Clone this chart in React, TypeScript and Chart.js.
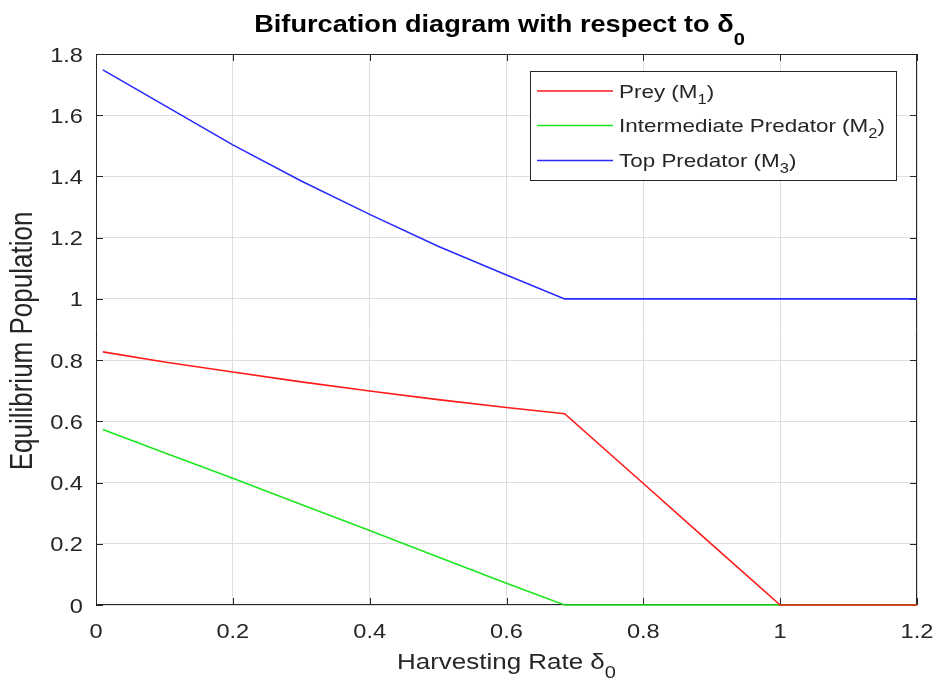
import { useEffect, useRef } from "react";
import { Chart, registerables } from "chart.js";

Chart.register(...registerables);

// ---- data ----
const harvestRates = [0.01, 0.1, 0.2, 0.3, 0.4, 0.5, 0.6, 0.685, 0.8, 0.9, 1.0, 1.1, 1.2];
const preyM1 = [0.827, 0.794, 0.761, 0.729, 0.699, 0.671, 0.645, 0.625, 0.397, 0.198, 0, 0, 0];
const intermediateM2 = [0.573, 0.497, 0.414, 0.328, 0.243, 0.157, 0.071, 0, 0, 0, 0, 0, 0];
const topM3 = [1.748, 1.632, 1.503, 1.385, 1.276, 1.172, 1.078, 1.0, 1.0, 1.0, 1.0, 1.0, 1.0];

const xTickValues = [0, 0.2, 0.4, 0.6, 0.8, 1.0, 1.2];
const xTickLabels = ["0", "0.2", "0.4", "0.6", "0.8", "1", "1.2"];
const yTickValues = [0, 0.2, 0.4, 0.6, 0.8, 1.0, 1.2, 1.4, 1.6, 1.8];
const yTickLabels = ["0", "0.2", "0.4", "0.6", "0.8", "1", "1.2", "1.4", "1.6", "1.8"];

const seriesNames = [
  { main: "Prey (M", sub: "1", tail: ")" },
  { main: "Intermediate Predator (M", sub: "2", tail: ")" },
  { main: "Top Predator (M", sub: "3", tail: ")" },
];
const seriesColors = ["#ff1a1a", "#1ee61e", "#2a2aff"];

const FONT = "'Liberation Sans', Arial, Helvetica, sans-serif";
const SX = 1.18;
const TEXT = "#262626";

type Run = { text: string; font: string; dy: number };

function runsWidth(ctx: CanvasRenderingContext2D, runs: Run[]) {
  let w = 0;
  for (const r of runs) {
    ctx.font = r.font;
    w += ctx.measureText(r.text).width;
  }
  return w;
}

function drawRuns(
  ctx: CanvasRenderingContext2D,
  runs: Run[],
  x: number,
  y: number,
  align: "left" | "center" | "right",
  color: string
) {
  const w = runsWidth(ctx, runs) * SX;
  let start = x;
  if (align === "center") start = x - w / 2;
  if (align === "right") start = x - w;
  ctx.save();
  ctx.translate(start, y);
  ctx.scale(SX, 1);
  ctx.fillStyle = color;
  ctx.textAlign = "left";
  ctx.textBaseline = "alphabetic";
  let cx = 0;
  for (const r of runs) {
    ctx.font = r.font;
    ctx.fillText(r.text, cx, r.dy);
    cx += ctx.measureText(r.text).width;
  }
  ctx.restore();
}

const decorPlugin = {
  id: "matlabDecor",
  beforeDatasetsDraw(chart: any) {
    const ctx: CanvasRenderingContext2D = chart.ctx;
    const { left, right, top, bottom } = chart.chartArea;
    const xs = chart.scales.x;
    const ys = chart.scales.y;
    ctx.save();
    ctx.strokeStyle = TEXT;
    ctx.lineWidth = 1;
    ctx.beginPath();
    ctx.rect(left + 0.5, top + 0.5, right - left - 1, bottom - top - 1);
    ctx.stroke();
    const tl = 7;
    ctx.beginPath();
    for (const v of xTickValues) {
      const px = Math.round(xs.getPixelForValue(v)) + 0.5;
      ctx.moveTo(px, bottom);
      ctx.lineTo(px, bottom - tl);
      ctx.moveTo(px, top);
      ctx.lineTo(px, top + tl);
    }
    for (const v of yTickValues) {
      const py = Math.round(ys.getPixelForValue(v)) + 0.5;
      ctx.moveTo(left, py);
      ctx.lineTo(left + tl, py);
      ctx.moveTo(right, py);
      ctx.lineTo(right - tl, py);
    }
    ctx.stroke();
    ctx.restore();
  },
  afterDraw(chart: any) {
    const ctx: CanvasRenderingContext2D = chart.ctx;
    const { left, right } = chart.chartArea;
    const xs = chart.scales.x;
    const ys = chart.scales.y;
    const tickFont = `20px ${FONT}`;

    // tick labels
    xTickValues.forEach((v, i) => {
      drawRuns(ctx, [{ text: xTickLabels[i], font: tickFont, dy: 0 }], xs.getPixelForValue(v), 638, "center", TEXT);
    });
    yTickValues.forEach((v, i) => {
      drawRuns(ctx, [{ text: yTickLabels[i], font: tickFont, dy: 0 }], 83, ys.getPixelForValue(v) + 7.5, "right", TEXT);
    });

    // title
    drawRuns(
      ctx,
      [
        { text: "Bifurcation diagram with respect to δ", font: `bold 23px ${FONT}`, dy: 0 },
        { text: "0", font: `bold 17px ${FONT}`, dy: 13 },
      ],
      (left + right) / 2 - 7,
      32,
      "center",
      "#000"
    );

    // x axis title
    drawRuns(
      ctx,
      [
        { text: "Harvesting Rate δ", font: `22px ${FONT}`, dy: 0 },
        { text: "0", font: `17px ${FONT}`, dy: 9 },
      ],
      (left + right) / 2,
      669,
      "center",
      TEXT
    );

    // y axis title (rotated)
    ctx.save();
    ctx.translate(32, 341);
    ctx.scale(SX, 1);
    ctx.rotate(-Math.PI / 2);
    ctx.font = `26px ${FONT}`;
    ctx.fillStyle = TEXT;
    ctx.textAlign = "center";
    ctx.textBaseline = "alphabetic";
    ctx.fillText("Equilibrium Population", 0, 0);
    ctx.restore();

    // legend
    const bx = 530.5, by = 71.5, bw = 366, bh = 109;
    ctx.save();
    ctx.fillStyle = "#ffffff";
    ctx.fillRect(bx, by, bw, bh);
    ctx.strokeStyle = TEXT;
    ctx.lineWidth = 1;
    ctx.strokeRect(bx, by, bw, bh);
    ctx.restore();
    const rows = [91, 125.5, 160.5];
    seriesNames.forEach((s, i) => {
      ctx.save();
      ctx.strokeStyle = seriesColors[i];
      ctx.lineWidth = 1.5;
      ctx.beginPath();
      ctx.moveTo(537, rows[i]);
      ctx.lineTo(613, rows[i]);
      ctx.stroke();
      ctx.restore();
      drawRuns(
        ctx,
        [
          { text: s.main, font: `19px ${FONT}`, dy: 0 },
          { text: s.sub, font: `14px ${FONT}`, dy: 6 },
          { text: s.tail, font: `19px ${FONT}`, dy: 0 },
        ],
        619,
        rows[i] + 6.5,
        "left",
        TEXT
      );
    });
  },
};

export default function App() {
  const ref = useRef<HTMLCanvasElement | null>(null);

  useEffect(() => {
    document.body.style.margin = "0";
    const canvas = ref.current;
    if (!canvas) return;
    const mk = (ys: number[]) => harvestRates.map((x, i) => ({ x, y: ys[i] }));
    const chart = new Chart(canvas, {
      type: "line",
      data: {
        datasets: [
          { label: "Prey (M1)", data: mk(preyM1), borderColor: seriesColors[0] },
          { label: "Intermediate Predator (M2)", data: mk(intermediateM2), borderColor: seriesColors[1] },
          { label: "Top Predator (M3)", data: mk(topM3), borderColor: seriesColors[2] },
        ].map((d) => ({
          ...d,
          borderWidth: 1.6,
          pointRadius: 0,
          tension: 0,
          fill: false,
          clip: false as any,
        })),
      },
      options: {
        responsive: false,
        animation: false,
        devicePixelRatio: 1,
        layout: { padding: { left: 0, right: 19, top: 54, bottom: 0 } },
        plugins: {
          legend: { display: false },
          title: { display: false },
          tooltip: { enabled: false },
        },
        scales: {
          x: {
            type: "linear",
            min: 0,
            max: 1.2,
            afterBuildTicks: (s: any) => {
              s.ticks = xTickValues.map((v) => ({ value: v }));
            },
            afterFit: (s: any) => {
              s.height = 74;
            },
            ticks: { display: false },
            grid: { color: "#dedede", lineWidth: 1, drawTicks: false, tickLength: 0 },
            border: { display: false },
          },
          y: {
            type: "linear",
            min: 0,
            max: 1.8,
            afterBuildTicks: (s: any) => {
              s.ticks = yTickValues.map((v) => ({ value: v }));
            },
            afterFit: (s: any) => {
              s.width = 96;
            },
            ticks: { display: false },
            grid: { color: "#dedede", lineWidth: 1, drawTicks: false, tickLength: 0 },
            border: { display: false },
          },
        },
      },
      plugins: [decorPlugin],
    });
    return () => chart.destroy();
  }, []);

  return (
    <div style={{ width: 936, height: 679, background: "#fff" }}>
      <canvas ref={ref} width={936} height={679} style={{ display: "block", width: 936, height: 679 }} />
    </div>
  );
}
